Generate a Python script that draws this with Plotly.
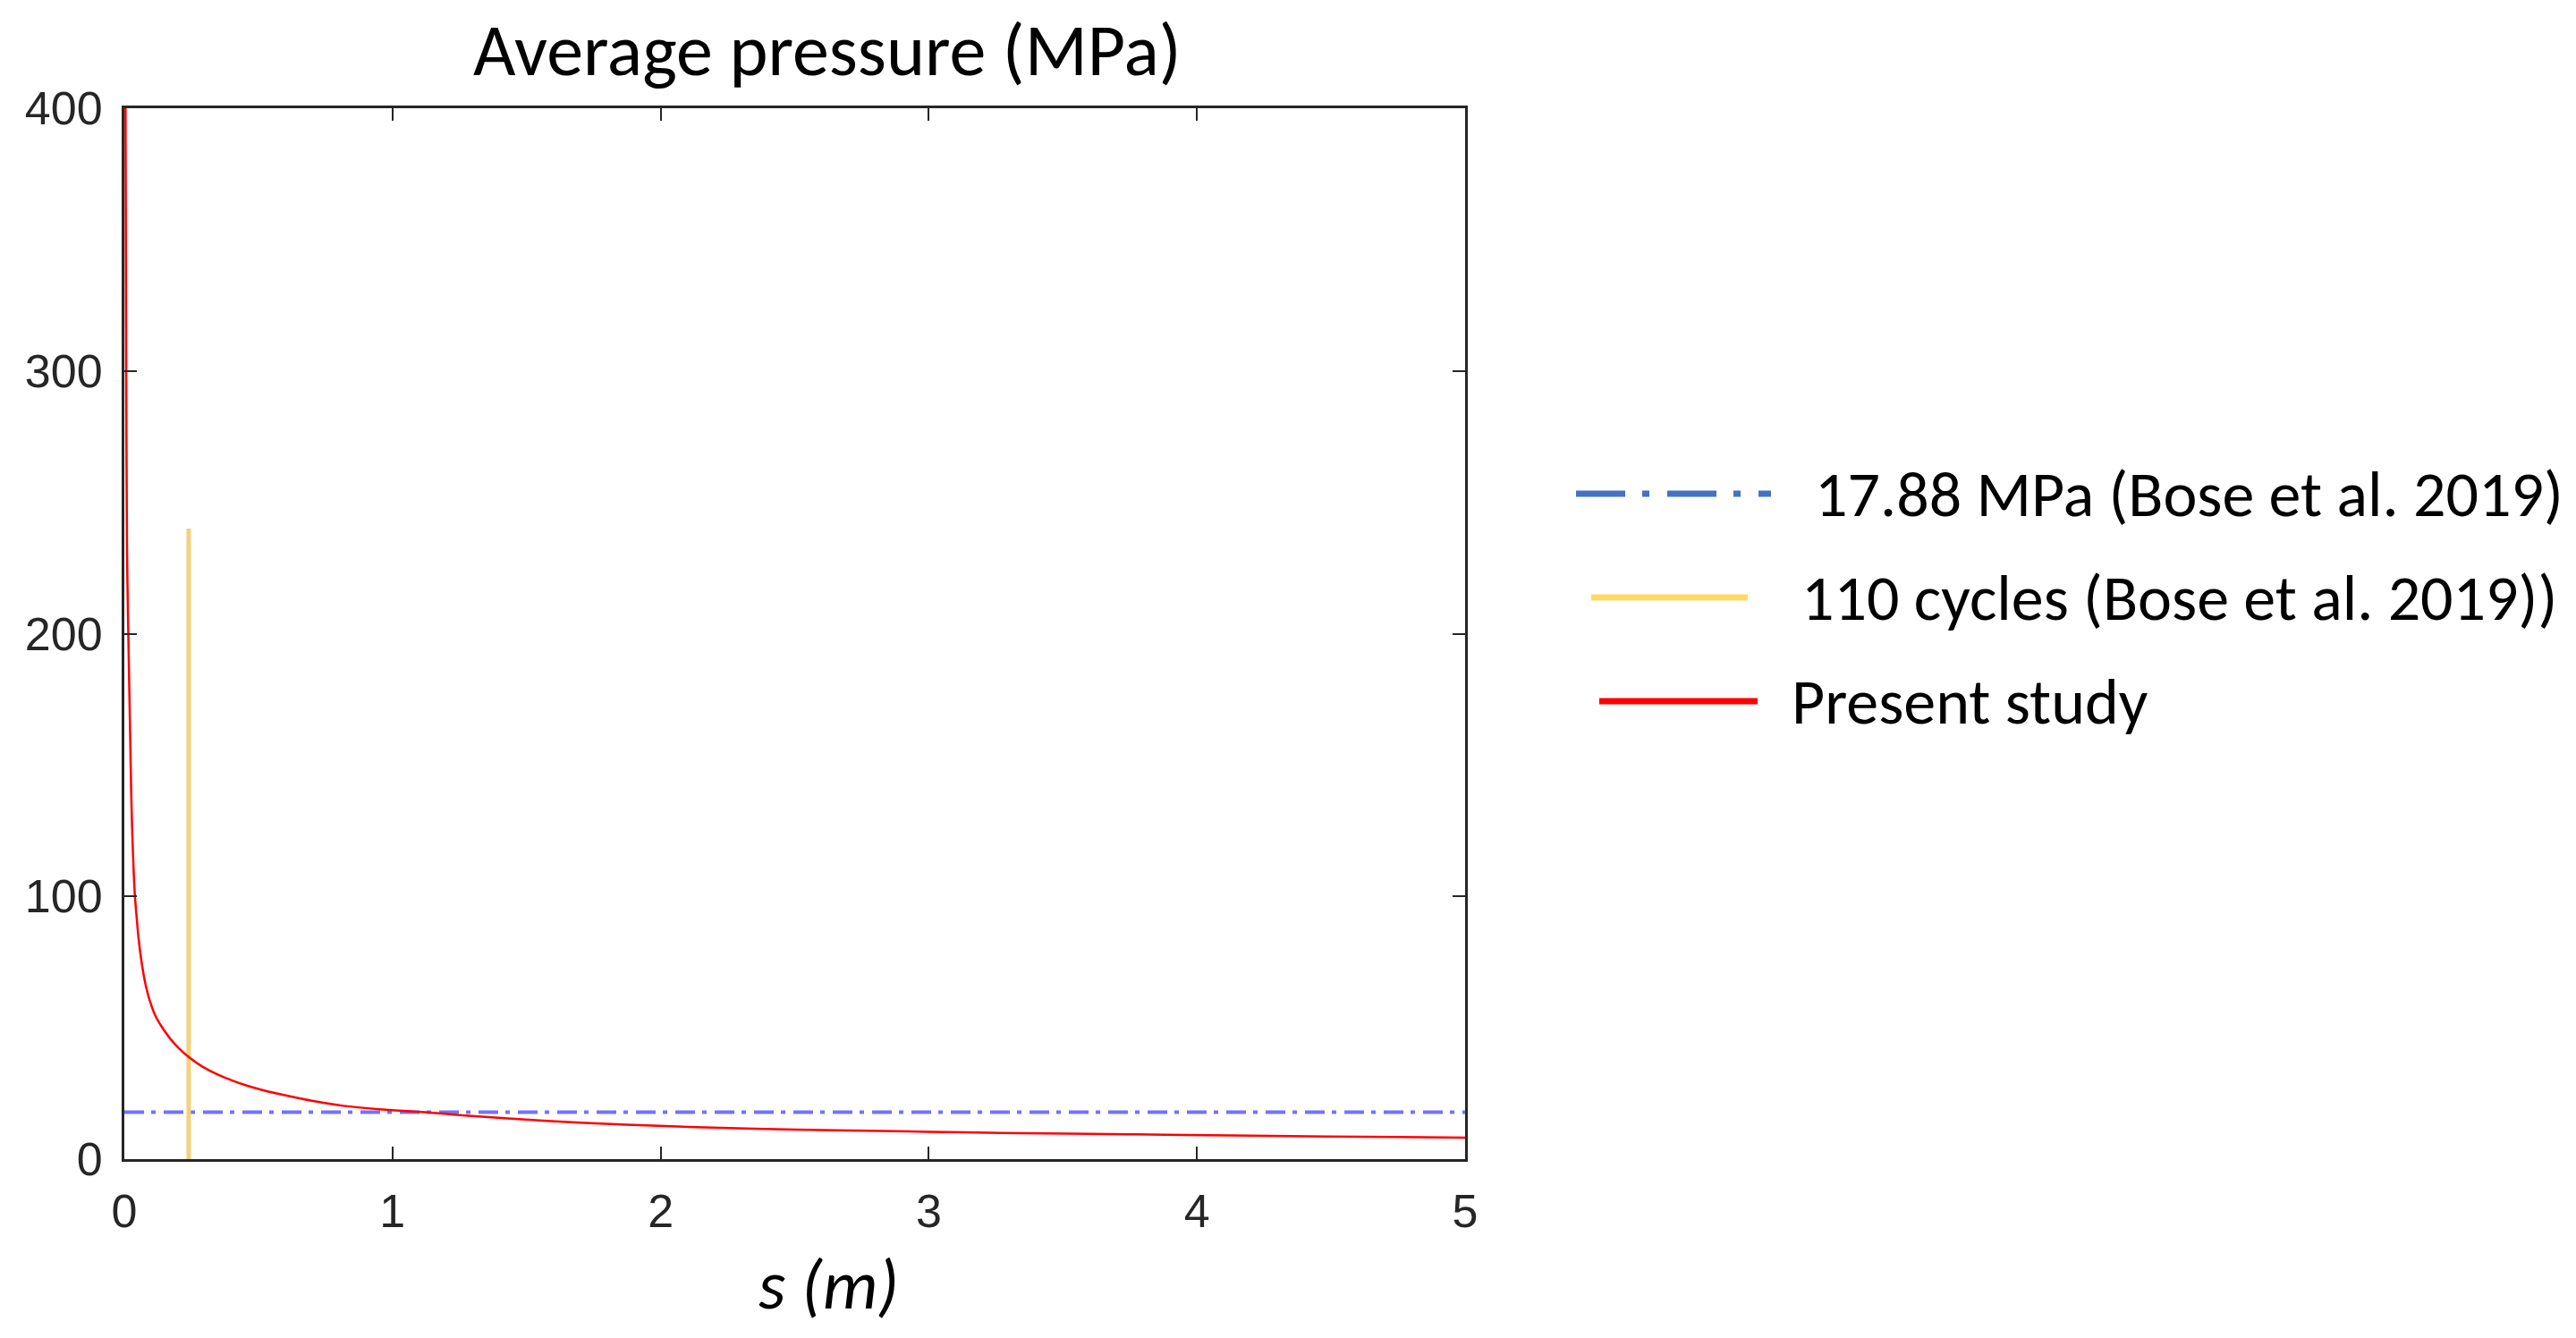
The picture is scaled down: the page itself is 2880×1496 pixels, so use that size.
import plotly.graph_objects as go

# ---------------- data ----------------
s_red = [0.004, 0.007, 0.010, 0.014, 0.018, 0.022, 0.026, 0.031, 0.039, 0.046,
         0.053, 0.063, 0.075, 0.09, 0.114, 0.14, 0.17, 0.2, 0.242, 0.29,
         0.348, 0.4, 0.459, 0.53, 0.6, 0.7, 0.816, 0.95, 1.12, 1.27,
         1.43, 1.7, 2.04, 2.35, 2.65, 3.0, 3.27, 3.6, 3.88, 4.2,
         4.49, 4.75, 5.0]
p_red = [420, 300, 232, 205, 182, 160, 138, 120, 101, 92,
         84, 76, 68.5, 62, 55, 50.3, 46, 42.5, 38.7, 35.3,
         32.2, 30, 27.9, 25.9, 24.3, 22.2, 20.3, 19.0, 17.9, 16.6,
         15.5, 13.9, 12.5, 11.6, 11.0, 10.4, 10.0, 9.6, 9.3, 8.95,
         8.6, 8.4, 8.2]

bose_pressure = 17.88
bose_x_range = [0, 5]
cycles_s = 0.24
cycles_p_range = [0, 240]

x_ticks = [0, 1, 2, 3, 4, 5]
y_ticks = [0, 100, 200, 300, 400]

legend_labels = ["17.88 MPa (Bose et al. 2019)",
                 "110 cycles (Bose et al. 2019))",
                 "Present study"]

# ---------------- geometry (pixels) ----------------
W, H = 2880, 1496
L, R, T, B = 139, 1638, 121, 1296


def px(X):
    return (X - L) / (R - L)


def py(Y):
    return (B - Y) / (B - T)


fig = go.Figure()

fig.add_trace(go.Scatter(
    x=bose_x_range, y=[bose_pressure, bose_pressure], mode="lines",
    line=dict(color="rgba(90,90,255,0.85)", width=4, dash="22px,8px,5px,9px"),
    showlegend=False, hoverinfo="skip"))

fig.add_trace(go.Scatter(
    x=[cycles_s, cycles_s], y=cycles_p_range, mode="lines",
    line=dict(color="rgb(244,208,125)", width=5),
    showlegend=False, hoverinfo="skip"))

fig.add_trace(go.Scatter(
    x=s_red, y=p_red, mode="lines",
    line=dict(color="rgb(255,0,0)", width=2.5, shape="spline", smoothing=0.8),
    showlegend=False, hoverinfo="skip"))

tick_font = dict(family="Liberation Sans, Arial, sans-serif", size=52, color="#262626")
axis_common = dict(
    showline=True, linecolor="#262626", linewidth=3, mirror="ticks",
    ticks="inside", ticklen=14, tickwidth=2, tickcolor="#262626",
    showgrid=False, zeroline=False, tickfont=tick_font, fixedrange=True,
)

fig.update_xaxes(range=[0, 5], tickvals=x_ticks, ticktext=[str(v) for v in x_ticks],
                 ticklabelstandoff=11, **axis_common)
fig.update_yaxes(range=[0, 400], tickvals=y_ticks, ticktext=[str(v) for v in y_ticks],
                 ticklabelstandoff=11, **axis_common)

cal = "Carlito, Liberation Sans Narrow, Lato, sans-serif"

annotations = [
    dict(text="Average pressure (MPa)", x=px(925), y=py(56), xref="paper", yref="paper",
         xanchor="center", yanchor="middle", showarrow=False,
         font=dict(family=cal, size=82, color="black")),
    dict(text="<i>s (m)</i>", x=px(926), y=py(1436), xref="paper", yref="paper",
         xanchor="center", yanchor="middle", showarrow=False,
         font=dict(family=cal, size=78, color="black")),
]

legend_rows = [
    dict(y=552, x0=1762, x1=1980, tx=2027, color="#4472C4", dash="55px,19px,8px,20px"),
    dict(y=668, x0=1779, x1=1954, tx=2012, color="#FFD966", dash="solid"),
    dict(y=784, x0=1788, x1=1965, tx=2001, color="#FF0000", dash="solid"),
]
shapes = []
for row, label in zip(legend_rows, legend_labels):
    shapes.append(dict(type="line", xref="paper", yref="paper",
                       x0=px(row["x0"]), x1=px(row["x1"]),
                       y0=py(row["y"]), y1=py(row["y"]),
                       line=dict(color=row["color"], width=7, dash=row["dash"])))
    annotations.append(dict(text=label, x=px(row["tx"]), y=py(row["y"]),
                            xref="paper", yref="paper", xanchor="left", yanchor="middle",
                            showarrow=False,
                            font=dict(family=cal, size=72, color="black")))

fig.update_layout(
    width=W, height=H, autosize=False,
    margin=dict(l=L, r=W - R, t=T, b=H - B, pad=0),
    paper_bgcolor="white", plot_bgcolor="white",
    annotations=annotations, shapes=shapes, showlegend=False,
)

fig.write_html("out.html", config={"displayModeBar": False})
